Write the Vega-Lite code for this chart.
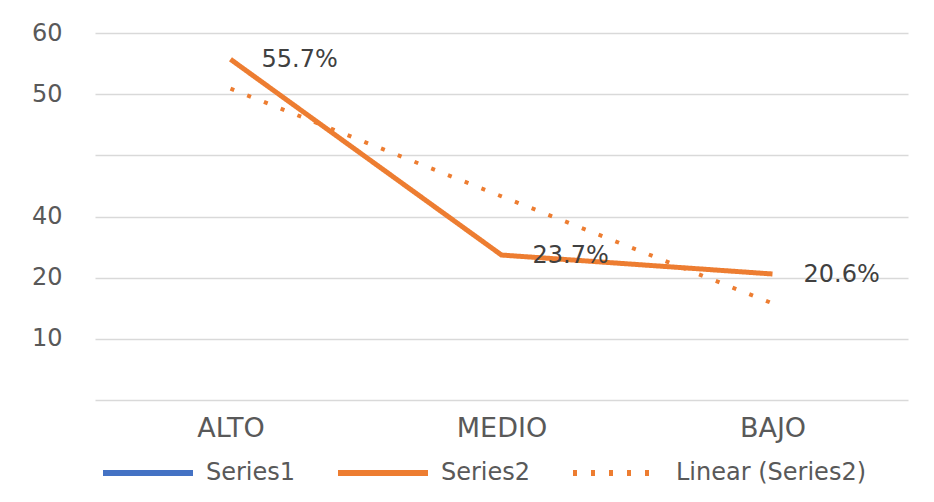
{
  "$schema": "https://vega.github.io/schema/vega-lite/v6.json",
  "width": 813,
  "height": 367,
  "autosize": {"type": "none"},
  "padding": {"left": 95, "top": 33, "right": 26, "bottom": 102},
  "background": "white",
  "config": {
    "view": {"stroke": null},
    "font": "DejaVu Sans",
    "axis": {"labelFont": "DejaVu Sans", "labelColor": "#595959", "labelFontSize": 24, "ticks": false, "domain": false, "title": null},
    "legend": {"labelFont": "DejaVu Sans", "labelColor": "#595959", "labelFontSize": 24, "labelLimit": 400}
  },
  "data": {
    "values": [
      {"cat": "ALTO", "value": 55.7, "series": "Series2", "label": "55.7%"},
      {"cat": "MEDIO", "value": 23.7, "series": "Series2", "label": "23.7%"},
      {"cat": "BAJO", "value": 20.6, "series": "Series2", "label": "20.6%"},
      {"cat": "ALTO", "value": 50.9, "series": "Linear (Series2)", "label": ""},
      {"cat": "MEDIO", "value": 33.3, "series": "Linear (Series2)", "label": ""},
      {"cat": "BAJO", "value": 15.8, "series": "Linear (Series2)", "label": ""}
    ]
  },
  "encoding": {
    "x": {
      "field": "cat", "type": "nominal", "sort": ["ALTO", "MEDIO", "BAJO"],
      "scale": {"type": "point", "padding": 0.5},
      "axis": {"labelAngle": 0, "labelPadding": 15, "grid": false, "labelFontSize": 27}
    },
    "y": {
      "field": "value", "type": "quantitative",
      "scale": {"domain": [0, 60], "nice": false, "zero": true},
      "axis": {
        "values": [0, 10, 20, 30, 40, 50, 60],
        "labelExpr": "datum.value == 60 ? '60' : datum.value == 50 ? '50' : datum.value == 30 ? '40' : datum.value == 20 ? '20' : datum.value == 10 ? '10' : ''",
        "labelPadding": 33,
        "grid": true, "gridColor": "#d9d9d9", "gridWidth": 1.5
      }
    }
  },
  "layer": [
    {
      "transform": [{"filter": "datum.series == 'Series2'"}],
      "mark": {"type": "line", "strokeWidth": 5, "strokeJoin": "miter"},
      "encoding": {
        "color": {"field": "series", "type": "nominal",
          "scale": {"domain": ["Series1", "Series2", "Linear (Series2)"], "range": ["#4472C4", "#ED7D31", "#ED7D31"]},
          "legend": {"title": null, "orient": "none", "direction": "horizontal", "legendX": 5, "legendY": 392,
            "symbolType": "stroke", "symbolSize": 8100, "symbolStrokeWidth": 6, "labelOffset": 10, "columnPadding": 30, "labelLimit": 400}},
        "strokeDash": {"field": "series", "type": "nominal",
          "scale": {"domain": ["Series1", "Series2", "Linear (Series2)"], "range": [[1, 0], [1, 0], [4, 14]]},
          "legend": {"title": null, "orient": "none", "direction": "horizontal", "legendX": 5, "legendY": 392,
            "symbolType": "stroke", "symbolSize": 8100, "symbolStrokeWidth": 6, "labelOffset": 10, "columnPadding": 30, "labelLimit": 400}}
      }
    },
    {
      "transform": [{"filter": "datum.series == 'Linear (Series2)'"}],
      "mark": {"type": "line", "strokeWidth": 4, "strokeCap": "butt"},
      "encoding": {
        "color": {"field": "series", "type": "nominal"},
        "strokeDash": {"field": "series", "type": "nominal"}
      }
    },
    {
      "transform": [{"filter": "datum.series == 'Series2'"}],
      "mark": {"type": "text", "align": "left", "baseline": "middle", "dx": 31, "dy": 1, "fontSize": 24, "color": "#404040", "font": "DejaVu Sans"},
      "encoding": {"text": {"field": "label"}}
    }
  ]
}
